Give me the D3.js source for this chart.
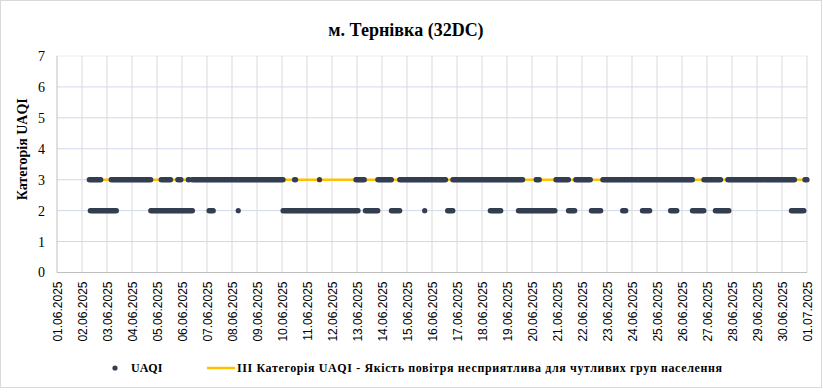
<!DOCTYPE html>
<html>
<head>
<meta charset="utf-8">
<script src="https://cdn.jsdelivr.net/npm/d3@7"></script>
<style>
    body { margin: 0; background: #fff; }
    .title { font-family: "Liberation Serif", serif; font-weight: bold; font-size: 18px; fill: #000; }
    .ylab { font-family: "Liberation Serif", serif; font-weight: bold; font-size: 14px; fill: #000; }
    .legend { font-family: "Liberation Serif", serif; font-weight: bold; font-size: 12px; fill: #000; }
    .y-axis text { font-family: "Liberation Serif", serif; font-size: 14px; fill: #000; }
    .x-axis text { font-family: "Liberation Sans", Arial, sans-serif; font-size: 12px; fill: #000; }
</style>
</head>
<body>
<script>
// hour ranges (hours since 01.06.2025 00:00)
var uaqi3Runs = [[31,42],[52,90],[100,109],[116,119],[126,127],[130,217],[228,229],[252,252],
    [287,295],[308,321],[329,373],[380,447],[460,463],[479,491],[498,512],[524,610],
    [621,637],[644,708],[718,720]];
var uaqi2Runs = [[32,57],[90,130],[146,150],[174,174],[217,289],[296,308],[321,329],[353,353],
    [375,380],[416,426],[443,478],[491,497],[513,522],[543,546],[562,569],[589,595],
    [610,621],[632,645],[705,717]];
var threshold = 3;
var thresholdSpan = [31, 720];
var yTicks = [0, 1, 2, 3, 4, 5, 6, 7];

var start = new Date(2025, 5, 1);
function hourToDate(h) { return new Date(start.getTime() + h * 3600 * 1000); }

var points = [];
uaqi3Runs.forEach(function(r) { for (var h = r[0]; h <= r[1]; h++) points.push({t: hourToDate(h), v: 3}); });
uaqi2Runs.forEach(function(r) { for (var h = r[0]; h <= r[1]; h++) points.push({t: hourToDate(h), v: 2}); });

var W = 823, H = 392;
var margin = {top: 56, right: 16, bottom: 120, left: 57};
var width = 807 - margin.left, height = 272.5 - margin.top;

var svg = d3.select("body").append("svg")
    .attr("width", W).attr("height", H);

svg.append("rect").attr("x", 0.5).attr("y", 0.5).attr("width", W - 2).attr("height", H - 5)
    .attr("fill", "#fff").attr("stroke", "#d9d9d9");

var g = svg.append("g").attr("transform", "translate(" + margin.left + "," + margin.top + ")");

var x = d3.scaleTime().domain([start, new Date(2025, 6, 1)]).range([0, width]);
var y = d3.scaleLinear().domain([0, 7]).range([height, 0]);
var days = d3.timeDay.range(start, new Date(2025, 6, 2));

// horizontal gridlines
g.selectAll(".hgrid").data(yTicks.slice(1)).enter().append("line")
    .attr("x1", 0).attr("x2", width)
    .attr("y1", function(d) { return y(d); }).attr("y2", function(d) { return y(d); })
    .attr("stroke", function(d) { return d === 7 ? "#eeeeee" : "#d0d9ea"; })
    .attr("stroke-width", 1);

// vertical gridlines
g.selectAll(".vgrid").data(days.slice(1)).enter().append("line")
    .attr("x1", function(d) { return x(d); }).attr("x2", function(d) { return x(d); })
    .attr("y1", 0).attr("y2", height)
    .attr("stroke", "#d9d9d9").attr("stroke-width", 1);

// axes lines
g.append("line").attr("x1", 0).attr("x2", 0).attr("y1", 0).attr("y2", height).attr("stroke", "#bfbfbf");
g.append("line").attr("x1", 0).attr("x2", width).attr("y1", height).attr("y2", height).attr("stroke", "#bfbfbf");

var yAxis = g.append("g").attr("class", "y-axis")
    .call(d3.axisLeft(y).tickValues(yTicks).tickSize(0).tickPadding(12).tickFormat(d3.format("d")));
yAxis.select(".domain").remove();

var xAxis = g.append("g").attr("class", "x-axis")
    .attr("transform", "translate(0," + height + ")")
    .call(d3.axisBottom(x).tickValues(days).tickSize(0).tickFormat(d3.timeFormat("%d.%m.%Y")));
xAxis.select(".domain").remove();
xAxis.selectAll("text")
    .attr("transform", "rotate(-90)")
    .attr("x", -9).attr("y", 0).attr("dy", "0.35em")
    .style("text-anchor", "end");

// threshold line
g.append("line")
    .attr("x1", x(hourToDate(thresholdSpan[0]))).attr("x2", x(hourToDate(thresholdSpan[1])))
    .attr("y1", y(threshold)).attr("y2", y(threshold))
    .attr("stroke", "#ffc000").attr("stroke-width", 2.5);

// UAQI points
g.selectAll(".dot").data(points).enter().append("circle")
    .attr("cx", function(d) { return x(d.t); })
    .attr("cy", function(d) { return y(d.v); })
    .attr("r", 2.6)
    .attr("fill", "#333f50");

// title
svg.append("text").attr("class", "title").attr("x", 406).attr("y", 36)
    .attr("text-anchor", "middle").text("м. Тернівка (32DC)");

// y label
svg.append("text").attr("class", "ylab")
    .attr("transform", "translate(27," + (margin.top + height / 2 - 15) + ") rotate(-90)")
    .attr("text-anchor", "middle").text("Категорія UAQI");

// legend
var ly = 368;
svg.append("circle").attr("cx", 115).attr("cy", ly).attr("r", 2.6).attr("fill", "#333f50");
svg.append("text").attr("class", "legend").attr("x", 131).attr("y", ly + 4).text("UAQI");
svg.append("line").attr("x1", 207).attr("x2", 235).attr("y1", ly).attr("y2", ly)
    .attr("stroke", "#ffc000").attr("stroke-width", 2.5);
svg.append("text").attr("class", "legend").attr("x", 237).attr("y", ly + 4)
    .attr("textLength", 485).attr("lengthAdjust", "spacing")
    .text("ІІІ Категорія  UAQI  - Якість повітря несприятлива  для чутливих  груп  населення");
</script>
</body>
</html>
